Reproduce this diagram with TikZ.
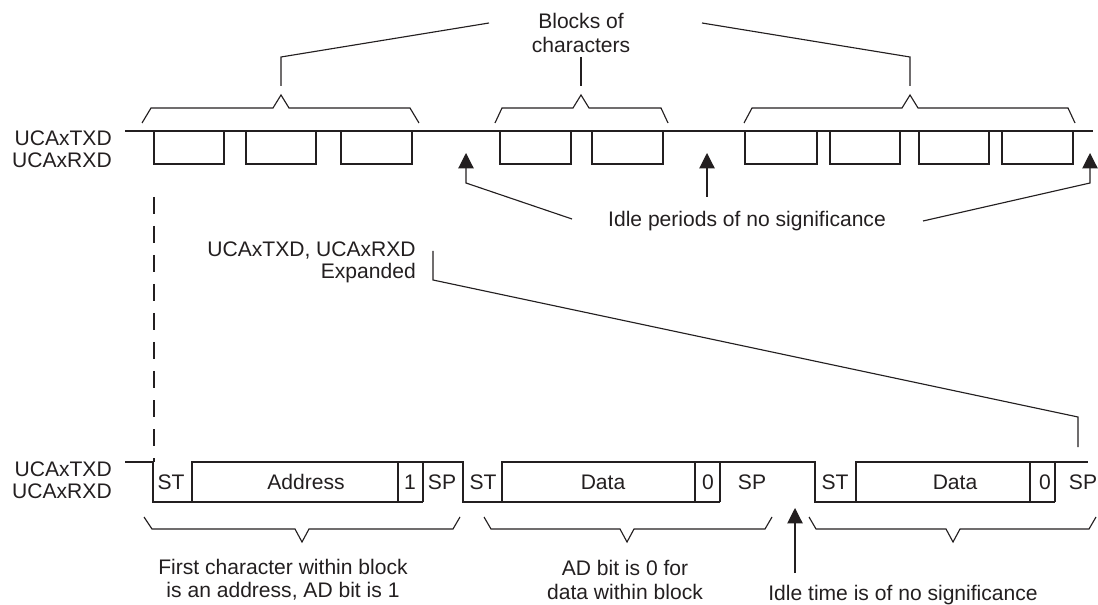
\documentclass[tikz,border=0pt]{standalone}
\usepackage{fontspec}
\setmainfont{Liberation Sans}
\usetikzlibrary{arrows.meta}
\definecolor{ink}{HTML}{231F20}
\begin{document}
\begin{tikzpicture}[x=0.75pt,y=-0.75pt,
  sig/.style={line width=1.9pt, draw=ink, line join=miter},
  thinline/.style={line width=0.85pt, draw=ink},
  lbl/.style={font=\fontsize{15.8}{16.5}\selectfont, inner sep=0pt, text=ink},
  arr/.style={thinline, -{Triangle[length=11.5pt,width=11.5pt,fill=ink]}},
  dashline/.style={line width=0.9pt, draw=ink, dash pattern=on 12.75pt off 9pt},
]
\useasboundingbox (0,0) rectangle (1098,605);

% ---------- top waveform ----------
\node[lbl, anchor=east, align=right] (topname) at (112,149) {UCAxTXD\\UCAxRXD};
\draw[sig] (125,131) -- (1093,131);
\foreach \a/\b in {154/224,246/316,341/412,500/571,592/663,745/817,830/900,919/989,1002/1073}
  \draw[sig] (\a,131) |- (\b,164) -- (\b,131);

% top braces
\coordinate (tb1) at (281,95);
\coordinate (tb2) at (581,95);
\coordinate (tb3) at (910,95);
\draw[thinline] (142,123) -- (151,108) -- (273,108) -- (tb1) -- (289,108) -- (410,108) -- (419,123);
\draw[thinline] (495,123) -- (502,108) -- (573,108) -- (tb2) -- (589,108) -- (661,108) -- (668,123);
\draw[thinline] (744,123) -- (752,108) -- (902,108) -- (tb3) -- (918,108) -- (1068,108) -- (1075,123);

% Blocks of characters
\node[lbl, align=center] (blocks) at (581,33) {Blocks of\\[2pt]characters};
\coordinate (lA) at (489,23);
\coordinate (lB) at (702,23);
\draw[thinline] (lA) -- (281,57) -- (281,86);
\draw[thinline] (581,57) -- (581,86);
\draw[thinline] (lB) -- (910,57) -- (910,86);

% idle periods
\node[lbl] (idle) at (747,221) {Idle periods of no significance};
\coordinate (ia1) at (572,219);
\coordinate (ia3) at (923,221);
\draw[arr] (ia1) -- (466,183) -- (466,153);
\draw[arr] (707,197) -- (707,153);
\draw[arr] (ia3) -- (1090,183) -- (1090,153);

% dashed line
\draw[dashline] (154,197) -- (154,462);

% expanded
\node[lbl, anchor=east, align=right] (exp) at (416,262) {UCAxTXD, UCAxRXD\\Expanded};
\draw[thinline] (433,251) -- (433,280) -- (1078,417) -- (1078,447);

% ---------- bottom waveform ----------
\node[lbl, anchor=east, align=right] (botname) at (112,480) {UCAxTXD\\UCAxRXD};
\draw[sig] (125,462) -- (153,462) -- (153,502) -- (192,502) -- (192,462) -- (463,462)
  -- (463,502) -- (502,502) -- (502,462) -- (815,462) -- (815,502) -- (856,502)
  -- (856,462) -- (1088,462);
\draw[sig] (192,502) -- (423,502);
\draw[sig] (398,462) -- (398,502);
\draw[sig] (423,462) -- (423,502);
\draw[sig] (502,502) -- (720,502);
\draw[sig] (695,462) -- (695,502);
\draw[sig] (720,462) -- (720,502);
\draw[sig] (856,502) -- (1055,502);
\draw[sig] (1030,462) -- (1030,502);
\draw[sig] (1055,462) -- (1055,502);

\node[lbl] (st1) at (171,482) {ST};
\node[lbl] (addr) at (306,482) {Address};
\node[lbl] (one) at (410,482) {1};
\node[lbl] (sp1) at (442,482) {SP};
\node[lbl] (st2) at (483,482) {ST};
\node[lbl] (data1) at (603,482) {Data};
\node[lbl] (zero1) at (708,482) {0};
\node[lbl] (sp2) at (752,482) {SP};
\node[lbl] (st3) at (835,482) {ST};
\node[lbl] (data2) at (955,482) {Data};
\node[lbl] (zero2) at (1045,482) {0};
\node[lbl] (sp3) at (1083,482) {SP};

% bottom braces
\draw[thinline] (144,517) -- (152,529) -- (295,529) -- (302,542) -- (309,529) -- (453,529) -- (460,517);
\draw[thinline] (484,517) -- (491,529) -- (620,529) -- (627,542) -- (634,529) -- (765,529) -- (772,517);
\draw[thinline] (809,517) -- (816,529) -- (946,529) -- (953,542) -- (960,529) -- (1089,529) -- (1096,517);

\node[lbl, align=center] (first) at (283,580) {First character within block\\[1pt]is an address, AD bit is 1};
\node[lbl, align=center] (adbit) at (625,580) {AD bit is 0 for\\[1pt]data within block};
\node[lbl] (idletime) at (903,595) {Idle time is of no significance};
\draw[arr] (795,573) -- (795,508);
\end{tikzpicture}
\end{document}
